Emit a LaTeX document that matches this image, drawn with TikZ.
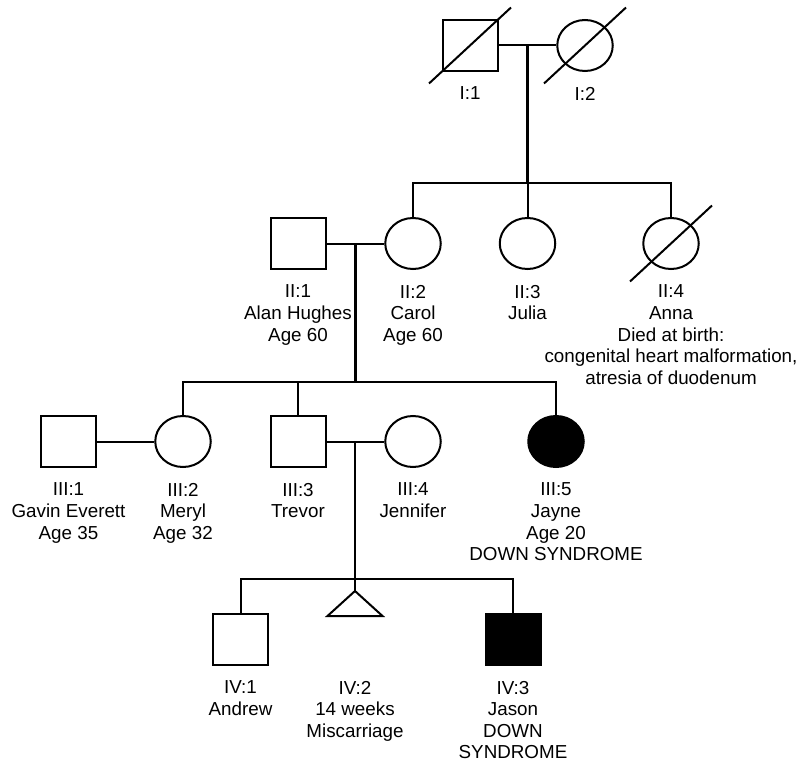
\documentclass[tikz,border=0pt]{standalone}
\usepackage{fontspec}
\setmainfont{Liberation Sans}
\usetikzlibrary{shapes.geometric}
\begin{document}
\begin{tikzpicture}[x=1pt,y=-1pt,
  ln/.style={line width=2pt},
  desc/.style={line width=2.8pt},
  sq/.style={draw,line width=2pt,rectangle,minimum width=55pt,minimum height=51pt,inner sep=0pt},
  ci/.style={draw,line width=2pt,ellipse,minimum width=55.5pt,minimum height=51pt,inner sep=0pt},
  lab/.style={align=center,anchor=north,inner sep=0pt,font=\fontsize{18.8}{21.6}\selectfont}]
\useasboundingbox (0,0) rectangle (800,762);
% Generation I
\node[sq] (I1) at (470,45.5) {};
\node[ci] (I2) at (585,45.5) {};
\draw[ln] ([shift={(-41,38)}]I1.center) -- ([shift={(41,-38)}]I1.center);
\draw[ln] ([shift={(-41,38)}]I2.center) -- ([shift={(41,-38)}]I2.center);
\node[lab] (LI1) at ([shift={(0,41.2)}]I1.center) {I:1};
\node[lab] (LI2) at ([shift={(0,41.2)}]I2.center) {I:2};
\draw[ln] (I1.east) -- (I2.west);
\coordinate (mI) at (527.7,45.5);
\coordinate (sI) at (527.7,183.3);
\draw[desc] (mI) -- (sI);
% Generation II
\node[sq] (II1) at (298,243.5) {};
\node[ci] (II2) at (413,243.5) {};
\node[ci] (II3) at (527.5,243.5) {};
\node[ci] (II4) at (671,243.5) {};
\draw[ln] ([shift={(-41,38)}]II4.center) -- ([shift={(41,-38)}]II4.center);
\draw[ln] (II2.north) -- (II2.north |- sI) -- (II4.north |- sI) -- (II4.north);
\draw[ln] (II3.north) -- (II3.north |- sI);
\draw[ln] (II1.east) -- (II2.west);
\node[lab] (LII1) at ([shift={(0,41.2)}]II1.center) {II:1\\Alan Hughes\\Age 60};
\node[lab] (LII2) at ([shift={(0,41.2)}]II2.center) {II:2\\Carol\\Age 60};
\node[lab] (LII3) at ([shift={(0,41.2)}]II3.center) {II:3\\Julia};
\node[lab] (LII4) at ([shift={(0,41.2)}]II4.center) {II:4\\Anna\\Died at birth:\\congenital heart malformation,\\atresia of duodenum};
\coordinate (mII) at (355.7,243.5);
\coordinate (sII) at (355.7,381.5);
\draw[desc] (mII) -- (sII);
% Generation III
\node[sq] (III1) at (68.5,441.5) {};
\node[ci] (III2) at (183,441.5) {};
\node[sq] (III3) at (298,441.5) {};
\node[ci] (III4) at (413,441.5) {};
\node[ci,fill=black] (III5) at (556,441.5) {};
\draw[ln] (III2.north) -- (III2.north |- sII) -- (III5.north |- sII) -- (III5.north);
\draw[ln] (III3.north) -- (III3.north |- sII);
\draw[ln] (III1.east) -- (III2.west);
\draw[ln] (III3.east) -- (III4.west);
\node[lab] (LIII1) at ([shift={(0,41.2)}]III1.center) {III:1\\Gavin Everett\\Age 35};
\node[lab] (LIII2) at ([shift={(0,41.2)}]III2.center) {III:2\\Meryl\\Age 32};
\node[lab] (LIII3) at ([shift={(0,41.2)}]III3.center) {III:3\\Trevor};
\node[lab] (LIII4) at ([shift={(0,41.2)}]III4.center) {III:4\\Jennifer};
\node[lab] (LIII5) at ([shift={(0,41.2)}]III5.center) {III:5\\Jayne\\Age 20\\DOWN SYNDROME};
\coordinate (mIII) at (355,441.5);
\coordinate (sIII) at (355,579.3);
\draw[desc] (mIII) -- (sIII);
% Generation IV
\node[sq] (IV1) at (240.5,639.5) {};
\coordinate (IV2) at (355,591);
\coordinate (IV2c) at (355,639.5);
\draw[ln,line join=miter] (IV2) -- ++(27.5,25) -- ++(-55,0) -- cycle;
\node[sq,fill=black] (IV3) at (513,639.5) {};
\draw[ln] (IV1.north) -- (IV1.north |- sIII) -- (IV3.north |- sIII) -- (IV3.north);
\draw[ln] (IV2) -- (IV2 |- sIII);
\node[lab] (LIV1) at ([shift={(0,41.2)}]IV1.center) {IV:1\\Andrew};
\node[lab] (LIV2) at ([shift={(0,41.2)}]IV2c) {IV:2\\14 weeks\\Miscarriage};
\node[lab] (LIV3) at ([shift={(0,41.2)}]IV3.center) {IV:3\\Jason\\DOWN\\SYNDROME};
\end{tikzpicture}
\end{document}
